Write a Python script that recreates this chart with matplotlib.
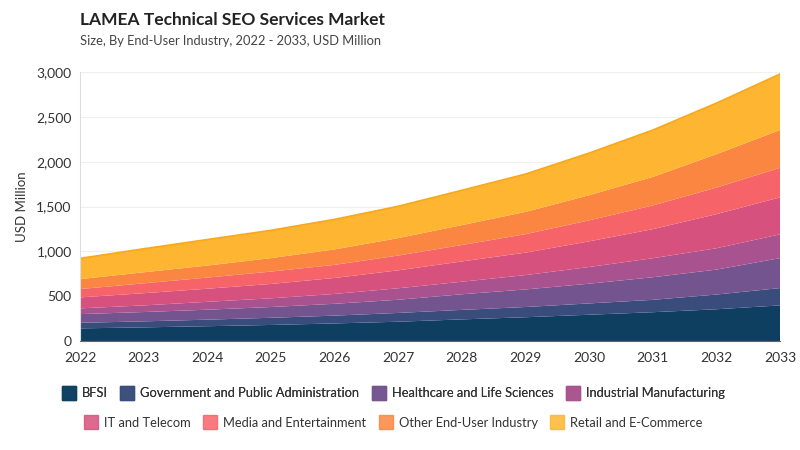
import matplotlib.pyplot as plt
from matplotlib.lines import Line2D
from matplotlib.ticker import FuncFormatter, MultipleLocator
import numpy as np

plt.rcParams['font.family'] = ['Lato', 'DejaVu Sans']

# Data (USD Million)
years = [2022, 2023, 2024, 2025, 2026, 2027, 2028, 2029, 2030, 2031, 2032, 2033]
series_names = ['BFSI', 'Government and Public Administration', 'Healthcare and Life Sciences',
                'Industrial Manufacturing', 'IT and Telecom', 'Media and Entertainment',
                'Other End-User Industry', 'Retail and E-Commerce']
bfsi = [142, 153, 166, 180, 197, 216, 242, 266, 294, 322, 355, 398]
government = [62, 67, 73, 80, 87, 98, 106, 114, 126, 138, 164, 193]
healthcare = [97, 104, 111, 120, 132, 147, 174, 196, 220, 252, 278, 334]
industrial = [64, 74, 88, 97, 110, 128, 140, 160, 186, 212, 238, 265]
it_telecom = [122, 136, 146, 160, 178, 200, 226, 250, 286, 324, 380, 412]
media = [93, 110, 124, 138, 146, 165, 183, 206, 234, 264, 296, 330]
other = [111, 123, 134, 150, 172, 194, 222, 248, 280, 318, 372, 421]
retail = [231, 262, 290, 310, 335, 355, 388, 422, 470, 522, 570, 624]

colors = ['#0e3f61', '#3a4c7c', '#73548f', '#a8538f', '#d6517d', '#f6646a', '#fb8641', '#fdb532']

fig = plt.figure(figsize=(8, 4.5), dpi=100)
ax = fig.add_axes([0.1, 0.242, 0.875, 0.598])

values = np.array([bfsi, government, healthcare, industrial, it_telecom, media, other, retail])
ax.stackplot(years, values, colors=colors, linewidth=0)

# top edge line of the stack
ax.plot(years, values.sum(axis=0), color='#f9a81a', linewidth=1.2)

ax.set_xlim(2022, 2033)
ax.set_ylim(0, 3000)
ax.set_xticks(years)
ax.yaxis.set_major_locator(MultipleLocator(500))
ax.yaxis.set_major_formatter(FuncFormatter(lambda v, p: f'{int(v):,}'))
ax.tick_params(axis='both', length=0, labelsize=10, labelcolor='#333333', pad=6)
ax.tick_params(axis='x', pad=8)

ax.grid(axis='y', color='#f0f0f0', linewidth=0.8)
ax.set_axisbelow(True)
for side in ['top', 'right']:
    ax.spines[side].set_visible(False)
ax.spines['left'].set_color('#dddddd')
ax.spines['bottom'].set_color('#666666')

ax.set_ylabel('USD Million', fontsize=9.5, color='#333333', labelpad=6)

fig.text(0.1, 0.955, 'LAMEA Technical SEO Services Market', fontsize=12.5,
         fontweight='bold', color='#222222', va='center')
fig.text(0.1, 0.908, 'Size, By End-User Industry, 2022 - 2033, USD Million', fontsize=9.3,
         color='#444444', va='center')

# Legend in two rows
handles = [Line2D([], [], linestyle='none', marker='s', markersize=10,
                  markerfacecolor=c, markeredgecolor=c, alpha=0.85) for c in colors]
row1 = fig.legend(handles[:4], series_names[:4], ncol=4, loc='center', bbox_to_anchor=(0.492, 0.126),
                  frameon=False, fontsize=9.3, handlelength=1.0, handletextpad=0.5, columnspacing=1.0,
                  labelcolor='#333333')
fig.add_artist(row1)
fig.legend(handles[4:], series_names[4:], ncol=4, loc='center', bbox_to_anchor=(0.492, 0.06),
           frameon=False, fontsize=9.3, handlelength=1.0, handletextpad=0.5, columnspacing=1.0,
           labelcolor='#333333')

fig.savefig('out.png', dpi=100)
